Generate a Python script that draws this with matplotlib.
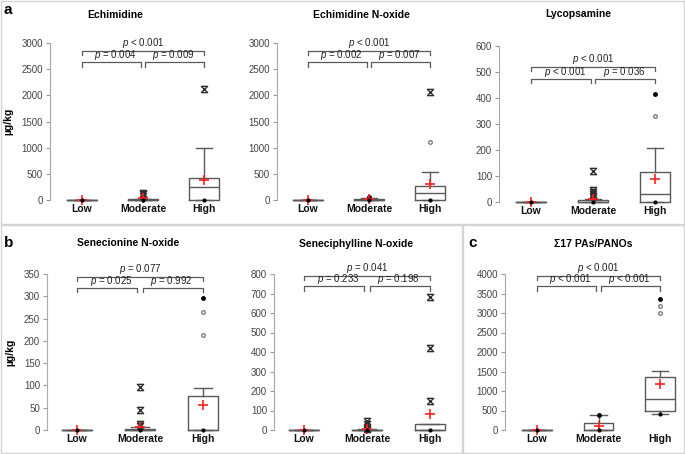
import numpy as np
import matplotlib
matplotlib.use('Agg')
import matplotlib.pyplot as plt
from matplotlib.path import Path
from matplotlib.lines import Line2D

plt.rcParams['font.family'] = ['Liberation Sans', 'DejaVu Sans']
plt.rcParams['mathtext.fontset'] = 'custom'
plt.rcParams['mathtext.it'] = 'Liberation Sans:italic'
plt.rcParams['mathtext.rm'] = 'Liberation Sans'

groups = ['Low', 'Moderate', 'High']
titles = ['Echimidine', 'Echimidine N-oxide', 'Lycopsamine',
          'Senecionine N-oxide', 'Seneciphylline N-oxide', '\u03a317 PAs/PANOs']
ymax = [3000, 3000, 600, 350, 800, 4000]
ystep = [500, 500, 100, 50, 100, 500]

# box statistics, one row per panel, one value per group (Low, Moderate, High)
q1 = [[0, 0, 0], [0, 0, 0], [0, 0, 0], [0, 0, 0], [0, 0, 0], [0, 0, 479]]
med = [[0, 0, 255], [0, 0, 140], [0, 0, 31], [0, 0, 0], [0, 0, 0], [0, 10, 786]]
q3 = [[0, 10, 428], [0, 15, 274], [0, 7, 115], [0, 2, 77], [0, 2, 33], [0, 170, 1368]]
whislo = [[0, 0, 0], [0, 0, 0], [0, 0, 0], [0, 0, 0], [0, 0, 0], [0, 0, 410]]
whishi = [[0, 15, 990], [0, 30, 536], [0, 10, 208], [0, 7, 94], [0, 5, 33], [0, 390, 1513]]
means = [[5, 30, 383], [5, 20, 306], [0, 12, 87], [0, 6, 56], [0, 5, 80], [5, 100, 1180]]

# extreme outliers (asterisks), mild outliers (circles), min/max points (dots)
extreme = [[[], [140, 115, 85], [2119]],
           [[], [], [2061]],
           [[], [119, 45, 38, 30, 22], []],
           [[], [96, 44, 13, 10], []],
           [[], [45, 30, 12, 6], [150, 419, 682]],
           [[], [], []]]
mild = [[[], [], []],
        [[], [], [1117]],
        [[], [], [331]],
        [[], [], [214, 265]],
        [[], [], []],
        [[], [], [3000, 3171]]]
maxdots = [[[], [], []],
           [[], [55], []],
           [[], [], [417]],
           [[], [], [297]],
           [[], [], []],
           [[], [390], [3359]]]

pvals = [['< 0.001', '= 0.004', '= 0.009'],
         ['< 0.001', '= 0.002', '= 0.007'],
         ['< 0.001', '< 0.001', '= 0.036'],
         ['= 0.077', '= 0.025', '= 0.992'],
         ['= 0.041', '= 0.233', '= 0.198'],
         ['< 0.001', '< 0.001', '< 0.001']]

# layout in pixels: y-axis x, Low centre, High centre, top of axis, zero line, title x, title y
layout = [(50, 82, 204, 43, 200, 115, 15), (277, 308, 430, 43, 200, 361, 15),
          (499, 531, 655, 46, 202, 578, 14),
          (47, 77, 203, 274, 430, 128, 243), (274, 304, 430, 274, 430, 356, 244),
          (505, 537, 660, 274, 430, 593, 244)]
brk = [(0.95, 0.877), (0.95, 0.877), (0.865, 0.79), (0.98, 0.91), (0.99, 0.92), (0.99, 0.92)]

W, H = 685, 454
fig = plt.figure(figsize=(W / 100, H / 100), dpi=100)

hour = Path([(-1, -1), (1, 1), (-1, 1), (1, -1), (-1, -1)],
            [Path.MOVETO, Path.LINETO, Path.LINETO, Path.LINETO, Path.LINETO])

edge = '#5a5a5a'
for i in range(6):
    axx, xlow, xhigh, ytop, yzero, tx, ty = layout[i]
    sp = (xhigh - xlow) / 2.0
    xlo = 1 - (xlow - axx) / sp
    xhi = 3.4
    ax = fig.add_axes([axx / W, 1 - yzero / H, (xhi - xlo) * sp / W, (yzero - ytop) / H])
    stats = []
    for g in range(3):
        stats.append(dict(q1=q1[i][g], med=med[i][g], q3=q3[i][g], whislo=whislo[i][g],
                          whishi=whishi[i][g], mean=means[i][g], fliers=[]))
    art = ax.bxp(stats, positions=[1, 2, 3], widths=0.48, capwidths=0.27, showmeans=True,
                 showfliers=False,
                 boxprops=dict(color=edge, lw=1.0), whiskerprops=dict(color=edge, lw=1.0),
                 capprops=dict(color=edge, lw=1.0), medianprops=dict(color=edge, lw=1.0),
                 meanprops=dict(marker='+', markeredgecolor='#ff2020', markersize=7.5,
                                markeredgewidth=1.2))
    for k in art:
        for a in art[k]:
            a.set_clip_on(False)
    for g in range(3):
        x = g + 1
        ax.plot([x], [whislo[i][g]], 'o', color='black', ms=2.0, clip_on=False, zorder=4)
        if extreme[i][g]:
            ax.plot([x] * len(extreme[i][g]), extreme[i][g], ls='none', marker=hour,
                    ms=4.5, mec='#303030', mfc='none', mew=1.0, clip_on=False)
        if mild[i][g]:
            ax.plot([x] * len(mild[i][g]), mild[i][g], 'o', ms=2.6, mfc='white',
                    mec='#707070', mew=0.9, clip_on=False)
        if maxdots[i][g]:
            ax.plot([x] * len(maxdots[i][g]), maxdots[i][g], 'o', ms=2.5, color='black',
                    clip_on=False)

    ax.set_xlim(xlo, xhi)
    ax.set_ylim(0, ymax[i])
    ax.set_yticks(np.arange(0, ymax[i] + 1, ystep[i]))
    ax.set_xticks([1, 2, 3])
    ax.set_xticklabels(groups, fontweight='bold', fontsize=7.5, color='#111111')
    ax.tick_params(axis='x', length=0, pad=3)
    ax.tick_params(axis='y', length=3, color='#999999', labelsize=7, labelcolor='#444444', pad=2)
    for s in ['top', 'right', 'bottom']:
        ax.spines[s].set_visible(False)
    ax.spines['left'].set_color('#aaaaaa')
    ax.patch.set_alpha(0)

    # significance brackets
    top, low = brk[i]
    tk = 0.028 * ymax[i]
    yt, yl = top * ymax[i], low * ymax[i]
    kw = dict(color=edge, lw=0.9, clip_on=False)
    ax.plot([1, 1, 3, 3], [yt - tk, yt, yt, yt - tk], **kw)
    ax.plot([1, 1, 1.96, 1.96], [yl - tk, yl, yl, yl - tk], **kw)
    ax.plot([2.04, 2.04, 3, 3], [yl - tk, yl, yl, yl - tk], **kw)
    tkw = dict(ha='center', va='bottom', fontsize=7, color='#222222', clip_on=False)
    ax.text(2, yt + 0.006 * ymax[i], '$p$ ' + pvals[i][0], **tkw)
    ax.text(1.55, yl, '$p$ ' + pvals[i][1], **tkw)
    ax.text(2.5, yl, '$p$ ' + pvals[i][2], **tkw)

    fig.text(tx / W, 1 - ty / H, titles[i], fontsize=7.5, fontweight='bold',
             ha='center', va='center')
    if i in (0, 3):
        ax.set_ylabel('\u00b5g/kg', fontsize=7.5, fontweight='bold', labelpad=6)

# panel frames and letters
fc = '#d4d4d4'
for xs, ys in [([0.5, 683.5, 683.5, 0.5, 0.5], [0.5, 0.5, 223.5, 223.5, 0.5]),
               ([0.5, 462, 462, 0.5, 0.5], [224.5, 224.5, 452.5, 452.5, 224.5]),
               ([463, 683.5, 683.5, 463, 463], [224.5, 224.5, 452.5, 452.5, 224.5])]:
    fig.add_artist(Line2D([x / W for x in xs], [1 - y / H for y in ys], color=fc, lw=1.0))
for lab, x, y in [('a', 4, 10), ('b', 4, 243), ('c', 468, 243)]:
    fig.text(x / W, 1 - y / H, lab, fontsize=11, fontweight='bold', va='center', ha='left')

plt.savefig('out.png', dpi=100)
plt.close()
